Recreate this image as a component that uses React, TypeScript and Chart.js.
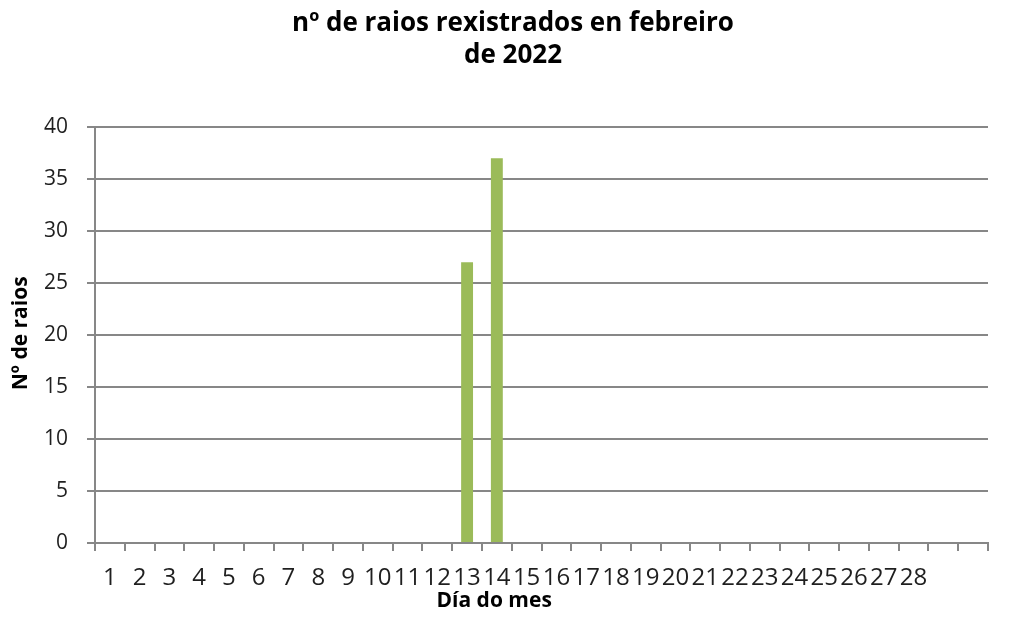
import React, { useEffect, useRef } from "react";
import { Chart, registerables } from "chart.js";

Chart.register(...registerables);

const TITLE_LINES = ["nº de raios rexistrados en febreiro", "de 2022"];
const X_TITLE = "Día do mes";
const Y_TITLE = "Nº de raios";

const DAYS = [
  "1", "2", "3", "4", "5", "6", "7", "8", "9", "10",
  "11", "12", "13", "14", "15", "16", "17", "18", "19", "20",
  "21", "22", "23", "24", "25", "26", "27", "28", "", "",
];

const RAIOS = [
  0, 0, 0, 0, 0, 0, 0, 0, 0, 0,
  0, 0, 27, 37, 0, 0, 0, 0, 0, 0,
  0, 0, 0, 0, 0, 0, 0, 0, null, null,
];

const Y_MIN = 0;
const Y_MAX = 40;
const Y_STEP = 5;

const FONT = '"Open Sans", "Noto Sans", sans-serif';
const GRID = "#878787";
const TEXT = "#1f1f1f";

const axisTitles = {
  id: "axisTitles",
  afterDraw(chart: any) {
    const ctx = chart.ctx;
    const area = chart.chartArea;
    ctx.save();
    ctx.fillStyle = "#000";
    ctx.font = `bold 21px ${FONT}`;
    ctx.textAlign = "center";
    ctx.textBaseline = "middle";
    ctx.fillText(X_TITLE, area.left + (area.right - area.left) * 0.447, 601);
    ctx.translate(21, area.top + (area.bottom - area.top) * 0.496);
    ctx.rotate(-Math.PI / 2);
    ctx.fillText(Y_TITLE, 0, 0);
    ctx.restore();
  },
};

export default function App() {
  const ref = useRef<HTMLCanvasElement | null>(null);

  useEffect(() => {
    if (!ref.current) return;
    const chart = new Chart(ref.current, {
      type: "bar",
      data: {
        labels: DAYS,
        datasets: [
          {
            label: Y_TITLE,
            data: RAIOS,
            backgroundColor: "#9bbb59",
            borderWidth: 0,
            barPercentage: 0.4,
            categoryPercentage: 1,
          },
        ],
      },
      options: {
        responsive: false,
        animation: false,
        layout: { padding: { left: 38, right: 25, top: 0, bottom: 0 } },
        plugins: {
          legend: { display: false },
          tooltip: { enabled: false },
          title: {
            display: true,
            text: TITLE_LINES,
            color: "#000",
            font: { family: FONT, size: 26, weight: "bold", lineHeight: 1.21 },
            padding: { top: 8, bottom: 56 },
          },
        },
        scales: {
          x: {
            grid: {
              display: true,
              drawOnChartArea: false,
              drawTicks: true,
              tickLength: 8,
              color: GRID,
              lineWidth: 2,
              offset: true,
            },
            border: { display: true, color: GRID, width: 2 },
            ticks: {
              autoSkip: false,
              maxRotation: 0,
              minRotation: 0,
              color: TEXT,
              padding: 13,
              font: { family: FONT, size: 24 },
            },
            afterFit(scale: any) {
              scale.height = 75;
            },
          },
          y: {
            min: Y_MIN,
            max: Y_MAX,
            grid: {
              color: GRID,
              lineWidth: 2,
              tickLength: 8,
              drawTicks: true,
            },
            border: { display: true, color: GRID, width: 2 },
            ticks: {
              stepSize: Y_STEP,
              color: TEXT,
              padding: 19,
              font: { family: FONT, size: 21 },
            },
            afterFit(scale: any) {
              scale.width = 57;
            },
          },
        },
      },
      plugins: [axisTitles],
    });
    return () => chart.destroy();
  }, []);

  return (
    <div style={{ position: "absolute", left: 0, top: 0, width: 1013, height: 618, background: "#fff" }}>
      <canvas ref={ref} width={1013} height={618} />
    </div>
  );
}
